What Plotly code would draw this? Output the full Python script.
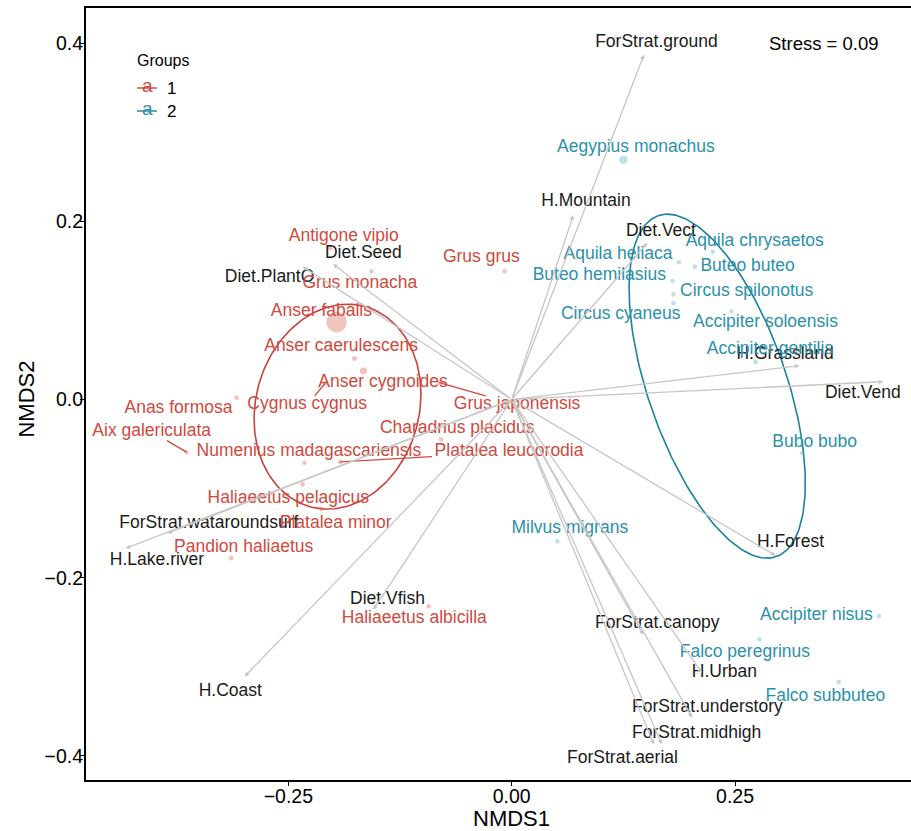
import numpy as np
import plotly.graph_objects as go

# ---------------- data ----------------
species = [
    "Antigone vipio", "Grus monacha", "Grus grus", "Anser fabalis", "Anser caerulescens",
    "Anser cygnoides", "Cygnus cygnus", "Grus japonensis", "Anas formosa", "Aix galericulata",
    "Numenius madagascariensis", "Charadrius placidus", "Platalea leucorodia",
    "Haliaeetus pelagicus", "Platalea minor", "Pandion haliaetus", "Haliaeetus albicilla",
    "Aegypius monachus", "Aquila chrysaetos", "Aquila heliaca", "Buteo buteo",
    "Buteo hemilasius", "Circus spilonotus", "Circus cyaneus", "Accipiter soloensis",
    "Accipiter gentilis", "Bubo bubo", "Milvus migrans", "Accipiter nisus",
    "Falco peregrinus", "Falco subbuteo",
]
group = [1] * 17 + [2] * 14
nmds1 = [-0.203, -0.157, -0.008, -0.196, -0.176, -0.166, -0.209, -0.081, -0.308, -0.364,
         -0.232, -0.079, -0.192, -0.234, -0.213, -0.314, -0.093,
         0.125, 0.225, 0.187, 0.205, 0.180, 0.181, 0.181, 0.246, 0.273, 0.325, 0.051,
         0.411, 0.277, 0.366]
nmds2 = [0.170, 0.144, 0.144, 0.087, 0.046, 0.032, 0.018, 0.019, 0.002, -0.059,
         -0.071, -0.045, -0.070, -0.095, -0.123, -0.178, -0.232,
         0.269, 0.166, 0.154, 0.149, 0.133, 0.118, 0.108, 0.099, 0.042, -0.060, -0.159,
         -0.243, -0.269, -0.317]
abundance = [1, 1, 1, 20, 1.2, 2.4, 1, 1, 1, 1, 1, 1, 1, 1, 1, 1, 1,
             3.2, 1, 1, 1, 1, 1, 1, 1, 1, 1, 1, 1, 1, 1]
# repelled label positions (data units)
label_x = [-0.188, -0.170, -0.034, -0.213, -0.191, -0.144, -0.229, 0.006, -0.373, -0.403,
           -0.227, -0.061, -0.003, -0.250, -0.197, -0.300, -0.109,
           0.139, 0.272, 0.119, 0.264, 0.098, 0.263, 0.122, 0.284, 0.289, 0.339, 0.065,
           0.341, 0.261, 0.351]
label_y = [0.183, 0.130, 0.159, 0.099, 0.059, 0.019, -0.006, -0.006, -0.010, -0.036,
           -0.059, -0.033, -0.059, -0.111, -0.139, -0.166, -0.246,
           0.283, 0.177, 0.163, 0.149, 0.139, 0.121, 0.095, 0.086, 0.056, -0.048, -0.145,
           -0.243, -0.284, -0.333]
segment_species = ["Aix galericulata", "Cygnus cygnus", "Grus japonensis", "Platalea leucorodia"]

vectors = ["ForStrat.ground", "H.Mountain", "Diet.Vect", "Diet.Seed", "Diet.PlantO",
           "H.Grassland", "Diet.Vend", "H.Forest", "ForStrat.wataroundsurf", "H.Lake.river",
           "H.Coast", "Diet.Vfish", "ForStrat.canopy", "H.Urban", "ForStrat.understory",
           "ForStrat.midhigh", "ForStrat.aerial"]
vec1 = [0.148, 0.069, 0.152, -0.200, -0.234, 0.322, 0.416, 0.295, -0.385, -0.432,
        -0.299, -0.155, 0.147, 0.213, 0.202, 0.168, 0.159]
vec2 = [0.387, 0.207, 0.176, 0.152, 0.149, 0.038, 0.020, -0.175, -0.150, -0.167,
        -0.311, -0.236, -0.264, -0.307, -0.357, -0.387, -0.387]
vec_label_x = [0.162, 0.083, 0.167, -0.166, -0.271, 0.306, 0.393, 0.312, -0.339, -0.397,
               -0.315, -0.139, 0.163, 0.238, 0.219, 0.207, 0.124]
vec_label_y = [0.401, 0.222, 0.188, 0.164, 0.137, 0.050, 0.007, -0.161, -0.139, -0.181,
               -0.328, -0.225, -0.251, -0.307, -0.346, -0.375, -0.403]

# 95% ellipse parameters per group: centre, semi-axes, rotation (deg)
ell_group = [1, 2]
ell_cx = [-0.195, 0.230]
ell_cy = [-0.008, 0.015]
ell_a = [0.1165, 0.2024]
ell_b = [0.0915, 0.0776]
ell_angle = [75, 109]

stress_text = "Stress = 0.09"
stress_pos = (0.35, 0.40)

xticks = [-0.25, 0.0, 0.25]
xticklabels = ["\u22120.25", "0.00", "0.25"]
yticks = [-0.4, -0.2, 0.0, 0.2, 0.4]
yticklabels = ["\u22120.4", "\u22120.2", "0.0", "0.2", "0.4"]

# ---------------- styles ----------------
FONT = "Liberation Sans, Arial, sans-serif"
text_col = {1: "#CF4A3E", 2: "#2B91AB"}
pt_col = {1: "rgba(214,88,70,0.5)", 2: "rgba(60,150,175,0.45)"}
ell_col = {1: "#C8413A", 2: "#1A819E"}
arrow_col = "#C6C6C6"
LBL = 17.5

XR = [-0.4765, 0.4469]
YR = [-0.427, 0.4394]
W, H = 911, 831
ML, MR, MT, MB = 86, 0, 8, 51
pxx = (W - ML - MR) / (XR[1] - XR[0])
pxy = (H - MT - MB) / (YR[1] - YR[0])

fig = go.Figure()

# arrows (drawn first, under everything)
for name, x, y in zip(vectors, vec1, vec2):
    fig.add_annotation(x=x, y=y, ax=0, ay=0, xref="x", yref="y", axref="x", ayref="y",
                       text="", showarrow=True, arrowhead=2, arrowsize=0.7,
                       arrowwidth=1.3, arrowcolor=arrow_col, standoff=0)

# ellipses
t = np.linspace(0, 2 * np.pi, 200)
for g, cx, cy, a, b, ang in zip(ell_group, ell_cx, ell_cy, ell_a, ell_b, ell_angle):
    th = np.deg2rad(ang)
    ex = cx + a * np.cos(t) * np.cos(th) - b * np.sin(t) * np.sin(th)
    ey = cy + a * np.cos(t) * np.sin(th) + b * np.sin(t) * np.cos(th)
    fig.add_trace(go.Scatter(x=ex, y=ey, mode="lines", line=dict(color=ell_col[g], width=1.6),
                             hoverinfo="skip", showlegend=False))

# repel segments
for i, s in enumerate(species):
    if s not in segment_species:
        continue
    g = group[i]
    px, py = nmds1[i], nmds2[i]
    lx, ly = label_x[i], label_y[i]
    dxp = (px - lx) * pxx
    dyp = (py - ly) * pxy
    hw = len(s) * 8.0 / 2 + 1
    hh = 9
    tt = min(hw / abs(dxp) if dxp else 1e9, hh / abs(dyp) if dyp else 1e9, 1)
    sx = lx + (px - lx) * tt
    sy = ly + (py - ly) * tt
    fig.add_trace(go.Scatter(x=[sx, px], y=[sy, py], mode="lines",
                             line=dict(color=text_col[g], width=1.3),
                             hoverinfo="skip", showlegend=False))

# points
for g in [1, 2]:
    idx = [i for i in range(len(species)) if group[i] == g]
    fig.add_trace(go.Scatter(
        x=[nmds1[i] for i in idx], y=[nmds2[i] for i in idx], mode="markers",
        marker=dict(color=pt_col[g], size=[4.6 * np.sqrt(abundance[i]) for i in idx],
                    line=dict(width=0)),
        hoverinfo="skip", showlegend=False))

# vector labels
fig.add_trace(go.Scatter(x=vec_label_x, y=vec_label_y, text=vectors, mode="text",
                         textposition="middle center",
                         textfont=dict(family=FONT, size=LBL, color="#1A1A1A"),
                         hoverinfo="skip", showlegend=False))

# species labels
for g in [1, 2]:
    idx = [i for i in range(len(species)) if group[i] == g]
    fig.add_trace(go.Scatter(
        x=[label_x[i] for i in idx], y=[label_y[i] for i in idx],
        text=[species[i] for i in idx], mode="text", textposition="middle center",
        textfont=dict(family=FONT, size=LBL, color=text_col[g]),
        hoverinfo="skip", showlegend=False))

# stress
fig.add_annotation(x=stress_pos[0], y=stress_pos[1], xref="x", yref="y", text=stress_text,
                   showarrow=False, xanchor="center", yanchor="middle",
                   font=dict(family=FONT, size=18.5, color="black"))

# axis titles
fig.add_annotation(x=0.0, y=-0.0495, xref="x", yref="paper", text="NMDS1", showarrow=False,
                   xanchor="center", yanchor="middle",
                   font=dict(family=FONT, size=22, color="black"))
fig.add_annotation(x=-0.0715, y=0.0, xref="paper", yref="y", text="NMDS2", showarrow=False,
                   xanchor="center", yanchor="middle", textangle=-90,
                   font=dict(family=FONT, size=22, color="black"))

# manual legend
plot_w = W - ML - MR
plot_h = H - MT - MB
def px2paper(x, y):
    return (x - ML) / plot_w, (H - MB - y) / plot_h

gx, gy = px2paper(135, 60)
fig.add_annotation(x=gx, y=gy, xref="paper", yref="paper", text="Groups", showarrow=False,
                   xanchor="left", yanchor="middle", font=dict(family=FONT, size=16, color="black"))
for k, (g, ypx) in enumerate([(1, 88), (2, 111)]):
    ax_, ay_ = px2paper(147, ypx)
    x0, _ = px2paper(137, ypx)
    x1, _ = px2paper(157, ypx)
    fig.add_shape(type="line", xref="paper", yref="paper", x0=x0, x1=x1, y0=ay_, y1=ay_,
                  line=dict(color=ell_col[g], width=1.4))
    _, ay_a = px2paper(147, ypx - 3)
    fig.add_annotation(x=ax_, y=ay_a, xref="paper", yref="paper", text="a",
                       showarrow=False, xanchor="center", yanchor="middle",
                       font=dict(family=FONT, size=19, color=text_col[g]))
    nx, _ = px2paper(171, ypx)
    fig.add_annotation(x=nx, y=ay_, xref="paper", yref="paper", text=str(g), showarrow=False,
                       xanchor="center", yanchor="middle",
                       font=dict(family=FONT, size=17, color="black"))

axis_common = dict(showgrid=False, zeroline=False, showline=True, linecolor="black",
                   linewidth=2, ticks="outside", ticklen=4, tickwidth=1.3, tickcolor="black",
                   tickfont=dict(family=FONT, size=19.5, color="black"))
fig.update_layout(
    width=W, height=H, margin=dict(l=ML, r=MR, t=MT, b=MB, pad=0),
    plot_bgcolor="white", paper_bgcolor="white", showlegend=False,
    xaxis=dict(range=XR, tickvals=xticks, ticktext=xticklabels, mirror=True,
               ticklabelstandoff=-6, **axis_common),
    yaxis=dict(range=YR, tickvals=yticks, ticktext=yticklabels, mirror=False,
               ticklabelstandoff=-7, **axis_common),
)

fig.write_html("out.html", config={"displayModeBar": False},
               post_script="document.body.style.margin='0px';document.body.style.padding='0px';")
